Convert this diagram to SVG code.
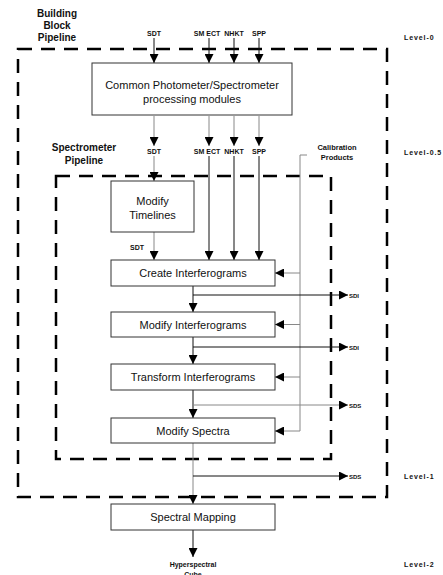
<svg xmlns="http://www.w3.org/2000/svg" width="443" height="575" viewBox="0 0 443 575">
<style>
.box{fill:#fff;stroke:#333;stroke-width:1}
.t{font-family:"Liberation Sans",Arial,sans-serif;font-size:11px;fill:#111;text-anchor:middle}
.s{font-family:"Liberation Sans",Arial,sans-serif;font-size:7px;font-weight:bold;fill:#111;text-anchor:middle}
.lv{font-family:"Liberation Sans",Arial,sans-serif;font-size:7px;font-weight:bold;fill:#111;letter-spacing:0.9px}
.h{font-family:"Liberation Sans",Arial,sans-serif;font-size:10px;font-weight:bold;fill:#111;text-anchor:middle}
.dash{fill:none;stroke:#000;stroke-width:2.5;stroke-dasharray:14 9}
.k{fill:none;stroke:#111;stroke-width:1}
.g{fill:none;stroke:#888;stroke-width:1}
.a{marker-end:url(#ah)}
</style>
<defs>
<marker id="ah" viewBox="0 0 10 10" refX="10" refY="5" markerWidth="10" markerHeight="9" orient="auto" markerUnits="userSpaceOnUse">
<path d="M0,0 L10,5 L0,10 z" fill="#000"/>
</marker>
</defs>
<g id="pipelines">
<path class="dash" d="M18,49 H387 V497 H18 Z"/>
<path class="dash" d="M56,176 H331 V459 H56 Z"/>
</g>
<g id="labels">
<text class="h" x="57" y="16.5">Building</text>
<text class="h" x="57" y="28.5">Block</text>
<text class="h" x="57" y="40.5">Pipeline</text>
<text class="h" x="84" y="150.5">Spectrometer</text>
<text class="h" x="84" y="163.5">Pipeline</text>
<text class="lv" x="404" y="39.5">Level-0</text>
<text class="lv" x="404" y="154.5">Level-0.5</text>
<text class="lv" x="404" y="478.5">Level-1</text>
<text class="lv" x="404" y="566.5">Level-2</text>
<text class="s" x="154" y="35.5">SDT</text>
<text class="s" x="207" y="35.5">SM ECT</text>
<text class="s" x="234" y="35.5">NHKT</text>
<text class="s" x="259" y="35.5">SPP</text>
<text class="s" x="154" y="153.5">SDT</text>
<text class="s" x="207" y="153.5">SM ECT</text>
<text class="s" x="234" y="153.5">NHKT</text>
<text class="s" x="259" y="153.5">SPP</text>
<text class="s" x="137" y="249.5">SDT</text>
<text class="s" x="337" y="149.5" style="font-size:7.5px">Calibration</text>
<text class="s" x="337" y="159.5" style="font-size:7.5px">Products</text>
<text class="s" x="349" y="297.5" style="text-anchor:start;font-size:6px">SDI</text>
<text class="s" x="349" y="349.5" style="text-anchor:start;font-size:6px">SDI</text>
<text class="s" x="349" y="407.5" style="text-anchor:start;font-size:6px">SDS</text>
<text class="s" x="349" y="478.5" style="text-anchor:start;font-size:6px">SDS</text>
<text class="s" x="193" y="566.5">Hyperspectral</text>
<text class="s" x="193" y="577">Cube</text>
</g>
<g id="connectors">
<line class="k a" x1="154" y1="38" x2="154" y2="63"/>
<line class="k a" x1="209" y1="38" x2="209" y2="63"/>
<line class="k a" x1="234" y1="38" x2="234" y2="63"/>
<line class="k a" x1="259" y1="38" x2="259" y2="63"/>
<line class="g a" x1="154" y1="116" x2="154" y2="146"/>
<line class="g a" x1="209" y1="116" x2="209" y2="146"/>
<line class="g a" x1="234" y1="116" x2="234" y2="146"/>
<line class="g a" x1="259" y1="116" x2="259" y2="146"/>
<line class="g a" x1="154" y1="156" x2="154" y2="181"/>
<line class="k a" x1="209" y1="156" x2="209" y2="260"/>
<line class="k a" x1="234" y1="156" x2="234" y2="260"/>
<line class="k a" x1="259" y1="156" x2="259" y2="260"/>
<line class="g a" x1="154" y1="232" x2="154" y2="260"/>
<path class="g" d="M307,155 H300 V431"/>
<line class="g a" x1="300" y1="273" x2="275" y2="273"/>
<line class="g a" x1="300" y1="324.5" x2="275" y2="324.5"/>
<line class="g a" x1="300" y1="377" x2="275" y2="377"/>
<line class="g a" x1="300" y1="431" x2="275" y2="431"/>
<line class="k a" x1="193" y1="286" x2="193" y2="312"/>
<line class="k a" x1="193" y1="295" x2="348" y2="295"/>
<line class="k a" x1="193" y1="337" x2="193" y2="364"/>
<line class="k a" x1="193" y1="347" x2="348" y2="347"/>
<line class="k a" x1="193" y1="390" x2="193" y2="418"/>
<line class="g a" x1="193" y1="405" x2="348" y2="405"/>
<line class="g a" x1="193" y1="443" x2="193" y2="504"/>
<line class="k a" x1="193" y1="476" x2="348" y2="476"/>
<line class="k a" x1="193" y1="530" x2="193" y2="557"/>
</g>
<g id="common">
<rect class="box" x="92" y="63" width="200" height="52"/>
<text class="t" x="192" y="89">Common Photometer/Spectrometer</text>
<text class="t" x="192" y="103">processing modules</text>
</g>
<g id="modify-timelines">
<rect class="box" x="111" y="181" width="83" height="51"/>
<text class="t" x="152.5" y="205">Modify</text>
<text class="t" x="152.5" y="219">Timelines</text>
</g>
<g id="create-interferograms">
<rect class="box" x="111" y="260" width="164" height="26"/>
<text class="t" x="193" y="277">Create Interferograms</text>
</g>
<g id="modify-interferograms">
<rect class="box" x="111" y="312" width="164" height="25"/>
<text class="t" x="193" y="328.5">Modify Interferograms</text>
</g>
<g id="transform-interferograms">
<rect class="box" x="111" y="364" width="164" height="26"/>
<text class="t" x="193" y="381">Transform Interferograms</text>
</g>
<g id="modify-spectra">
<rect class="box" x="111" y="418" width="164" height="25"/>
<text class="t" x="193" y="435">Modify Spectra</text>
</g>
<g id="spectral-mapping">
<rect class="box" x="111" y="504" width="164" height="26"/>
<text class="t" x="193" y="521">Spectral Mapping</text>
</g>
</svg>
